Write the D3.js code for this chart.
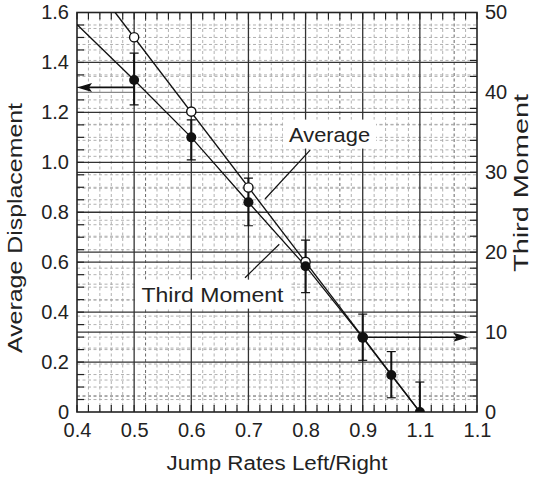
<!DOCTYPE html>
<html><head><meta charset="utf-8">
<script src="https://cdn.jsdelivr.net/npm/d3@7"></script>
<style>html,body{margin:0;padding:0;background:#fff}text{font-family:"Liberation Sans",Arial,sans-serif;fill:#222}</style>
</head><body><svg id="c" width="533" height="479"></svg>
<script>
// ---- data ----
const xTicks = [0.4, 0.5, 0.6, 0.7, 0.8, 0.9, 1.0, 1.1];
const xTickLabels = ["0.4", "0.5", "0.6", "0.7", "0.8", "0.9", "1.1", "1.1"];
const yLeftTicks = [0, 0.2, 0.4, 0.6, 0.8, 1.0, 1.2, 1.4, 1.6];
const yLeftTickLabels = ["0", "0.2", "0.4", "0.6", "0.8", "1.0", "1.2", "1.4", "1.6"];
const yRightTicks = [0, 10, 20, 30, 40, 50];
const yRightTickLabels = ["0", "10", "20", "30", "40", "50"];

const xPts = [0.5, 0.6, 0.7, 0.8, 0.9, 0.95, 1.0];
const avgVals = [1.33, 1.10, 0.84, 0.584, 0.298, 0.148, 0];
const avgHigh = [1.437, 1.17, 0.937, 0.688, 0.392, 0.242, 0.12];
const avgLow = [1.23, 1.01, 0.746, 0.478, 0.207, 0.057, -0.12];
const avgLineX = [0.4, 0.5, 0.6, 0.7, 0.8, 0.9, 0.95, 1.0];
const avgLineVals = [1.552, 1.33, 1.10, 0.84, 0.584, 0.298, 0.148, 0];

const thirdX = [0.5, 0.6, 0.7, 0.8, 0.9];
const thirdVals = [46.9, 37.6, 28.1, 18.8, 9.35];
const thirdLineX = [0.4667, 1.0];
const thirdLineVals = [50, 0];

// annotations (data units)
const leftArrow = {x1: 0.5, x2: 0.4, y: 1.30};
const rightArrow = {x1: 0.9, x2: 1.085, y: 9.35};
const avgLeader = {x1: 0.808, y1: 1.049, x2: 0.729, y2: 0.853};
const thirdLeader = {x1: 0.694, y1: 16.8, x2: 0.754, y2: 21.0};
const avgLabel = {text: "Average", x: 0.842, y: 1.083, len: 81};
const thirdLabel = {text: "Third Moment", x: 0.637, y: 0.442, len: 142};

// ---- layout ----
const L = 77, R = 477, T = 12.5, B = 412;
const svg = d3.select("#c");
const x = d3.scaleLinear().domain([0.4, 1.1]).range([L, R]);
const yL = d3.scaleLinear().domain([0, 1.6]).range([B, T]);
const yR = d3.scaleLinear().domain([0, 50]).range([B, T]);
const r2 = v => Math.round(v * 1000) / 1000;

const grid = svg.append("g");
const vMinor = d3.range(0, 36).map(i => r2(0.4 + i * 0.02)).filter(v => Math.abs(v * 10 - Math.round(v * 10)) > 1e-6);
const darkV = [0.52, 0.86, 1.06];
grid.selectAll(".vm").data(vMinor).join("line")
  .attr("x1", d => x(d)).attr("x2", d => x(d)).attr("y1", T).attr("y2", B)
  .attr("stroke", d => darkV.some(v => Math.abs(v - d) < 1e-6) ? "#555" : "#a8a8a8")
  .attr("stroke-width", 0.9).attr("stroke-dasharray", "3,2.5");
const hMinorL = d3.range(1, 32).map(i => r2(i * 0.05)).filter(v => Math.abs(v * 5 - Math.round(v * 5)) > 1e-6);
grid.selectAll(".hml").data(hMinorL).join("line")
  .attr("x1", L).attr("x2", R).attr("y1", d => yL(d)).attr("y2", d => yL(d))
  .attr("stroke", "#a8a8a8").attr("stroke-width", 0.9).attr("stroke-dasharray", "3,2.5");
const hMinorR = d3.range(1, 25).map(i => i * 2).filter(v => v % 10 !== 0);
grid.selectAll(".hmr").data(hMinorR).join("line")
  .attr("x1", L).attr("x2", R).attr("y1", d => yR(d)).attr("y2", d => yR(d))
  .attr("stroke", d => d === 2 ? "#444" : "#a8a8a8").attr("stroke-width", 0.9).attr("stroke-dasharray", "3,2.5");
grid.selectAll(".vM").data(xTicks.slice(1, -1)).join("line")
  .attr("x1", d => x(d)).attr("x2", d => x(d)).attr("y1", T).attr("y2", B)
  .attr("stroke", "#333").attr("stroke-width", 1.3);
grid.selectAll(".hML").data(yLeftTicks.slice(1, -1)).join("line")
  .attr("x1", L).attr("x2", R).attr("y1", d => yL(d)).attr("y2", d => yL(d))
  .attr("stroke", "#333").attr("stroke-width", 1.3);
grid.selectAll(".hMR").data(yRightTicks.slice(1, -1)).join("line")
  .attr("x1", L).attr("x2", R).attr("y1", d => yR(d)).attr("y2", d => yR(d))
  .attr("stroke", d => d === 40 ? "#888" : "#333").attr("stroke-width", 1.3);

const tk = svg.append("g").attr("stroke", "#222").attr("stroke-width", 1.2);
d3.range(0, 36).map(i => r2(0.4 + i * 0.02)).forEach(v => {
  tk.append("line").attr("x1", x(v)).attr("x2", x(v)).attr("y1", B).attr("y2", B - 7);
  tk.append("line").attr("x1", x(v)).attr("x2", x(v)).attr("y1", T).attr("y2", T + 7);
});
d3.range(1, 32).map(i => r2(i * 0.05)).forEach(v => {
  tk.append("line").attr("x1", L).attr("x2", L + 7).attr("y1", yL(v)).attr("y2", yL(v));
});
d3.range(1, 25).map(i => i * 2).forEach(v => {
  tk.append("line").attr("x1", R).attr("x2", R - 7).attr("y1", yR(v)).attr("y2", yR(v));
});
svg.append("rect").attr("x", L).attr("y", T).attr("width", R - L).attr("height", B - T)
  .attr("fill", "none").attr("stroke", "#222").attr("stroke-width", 1.6);

const FS = 20;
svg.append("g").attr("transform", `translate(0,${B})`)
  .call(d3.axisBottom(x).tickValues(xTicks).tickSize(0).tickPadding(11).tickFormat((d, i) => xTickLabels[i]))
  .call(g => g.select(".domain").remove())
  .selectAll("text").attr("font-size", FS).style("font-family", "Liberation Sans, Arial, sans-serif").attr("fill", "#222");
svg.append("g").attr("transform", `translate(${L},0)`)
  .call(d3.axisLeft(yL).tickValues(yLeftTicks).tickSize(0).tickPadding(8).tickFormat((d, i) => yLeftTickLabels[i]))
  .call(g => g.select(".domain").remove())
  .selectAll("text").attr("font-size", FS).style("font-family", "Liberation Sans, Arial, sans-serif").attr("fill", "#222");
svg.append("g").attr("transform", `translate(${R},0)`)
  .call(d3.axisRight(yR).tickValues(yRightTicks).tickSize(0).tickPadding(8).tickFormat((d, i) => yRightTickLabels[i]))
  .call(g => g.select(".domain").remove())
  .selectAll("text").attr("font-size", FS).style("font-family", "Liberation Sans, Arial, sans-serif").attr("fill", "#222");

svg.append("text").attr("x", 277).attr("y", 470).attr("text-anchor", "middle")
  .attr("font-size", 20).attr("textLength", 221).attr("lengthAdjust", "spacingAndGlyphs").text("Jump Rates Left/Right");
svg.append("text").attr("transform", "translate(22,228) rotate(-90)").attr("text-anchor", "middle")
  .attr("font-size", 20).attr("textLength", 250).attr("lengthAdjust", "spacingAndGlyphs").text("Average Displacement");
svg.append("text").attr("transform", "translate(528,183) rotate(-90)").attr("text-anchor", "middle")
  .attr("font-size", 20).attr("textLength", 178).attr("lengthAdjust", "spacingAndGlyphs").text("Third Moment");

svg.append("clipPath").attr("id", "pc").append("rect")
  .attr("x", L).attr("y", T - 1).attr("width", R - L).attr("height", B - T + 1);
const plot = svg.append("g").attr("clip-path", "url(#pc)");

const lineAvg = d3.line().x(d => x(d[0])).y(d => yL(d[1]));
plot.append("path").datum(avgLineX.map((v, i) => [v, avgLineVals[i]]))
  .attr("d", lineAvg).attr("fill", "none").attr("stroke", "#111").attr("stroke-width", 1.3);
const lineThird = d3.line().x(d => x(d[0])).y(d => yR(d[1]));
plot.append("path").datum(thirdLineX.map((v, i) => [v, thirdLineVals[i]]))
  .attr("d", lineThird).attr("fill", "none").attr("stroke", "#111").attr("stroke-width", 1.3);

const eb = plot.append("g").attr("stroke", "#111");
xPts.forEach((v, i) => {
  eb.append("line").attr("x1", x(v)).attr("x2", x(v)).attr("y1", yL(avgHigh[i])).attr("y2", yL(avgLow[i])).attr("stroke-width", 2);
  [avgHigh[i], avgLow[i]].forEach(e => eb.append("line").attr("x1", x(v) - 4.5).attr("x2", x(v) + 4.5)
    .attr("y1", yL(e)).attr("y2", yL(e)).attr("stroke-width", 1.2));
});

function arrow(a, yScale) {
  const y0 = yScale(a.y), xa = x(a.x1), xb = x(a.x2);
  const dir = Math.sign(xb - xa);
  plot.append("line").attr("x1", xa).attr("x2", xb - dir * 10).attr("y1", y0).attr("y2", y0)
    .attr("stroke", "#111").attr("stroke-width", 1.6);
  plot.append("path").attr("d", `M${xb},${y0}L${xb - dir * 15},${y0 - 4.5}L${xb - dir * 12},${y0}L${xb - dir * 15},${y0 + 4.5}Z`)
    .attr("fill", "#111");
}
arrow(leftArrow, yL);
arrow(rightArrow, yR);

plot.selectAll(".op").data(thirdX.map((v, i) => [v, thirdVals[i]])).join("circle")
  .attr("cx", d => x(d[0])).attr("cy", d => yR(d[1])).attr("r", 4.6)
  .attr("fill", "#fff").attr("stroke", "#111").attr("stroke-width", 1.4);
plot.selectAll(".fp").data(xPts.map((v, i) => [v, avgVals[i]])).join("circle")
  .attr("cx", d => x(d[0])).attr("cy", d => yL(d[1])).attr("r", 5)
  .attr("fill", "#111");

function boxedLabel(lab) {
  const g = svg.append("g");
  const t = g.append("text").attr("x", x(lab.x)).attr("y", yL(lab.y)).attr("text-anchor", "middle")
    .attr("font-size", 20.5).attr("textLength", lab.len).attr("lengthAdjust", "spacingAndGlyphs").text(lab.text);
  const b = t.node().getBBox();
  g.insert("rect", "text").attr("x", b.x - 6).attr("y", b.y - 3).attr("width", b.width + 12).attr("height", b.height + 6)
    .attr("fill", "#fff");
}
boxedLabel(avgLabel);
boxedLabel(thirdLabel);

svg.append("line").attr("x1", x(avgLeader.x1)).attr("y1", yL(avgLeader.y1)).attr("x2", x(avgLeader.x2)).attr("y2", yL(avgLeader.y2))
  .attr("stroke", "#111").attr("stroke-width", 1.2);
svg.append("line").attr("x1", x(thirdLeader.x1)).attr("y1", yR(thirdLeader.y1)).attr("x2", x(thirdLeader.x2)).attr("y2", yR(thirdLeader.y2))
  .attr("stroke", "#111").attr("stroke-width", 1.2);
</script></body></html>
